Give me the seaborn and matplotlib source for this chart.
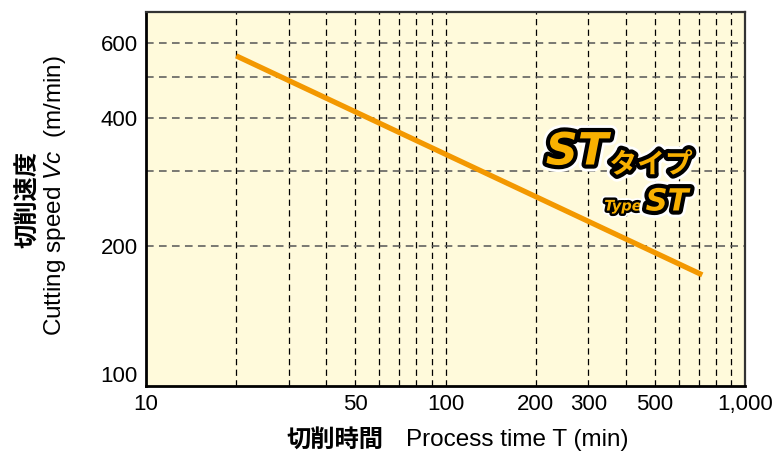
import matplotlib
matplotlib.use("Agg")
import matplotlib.pyplot as plt
import matplotlib.patheffects as pe
import numpy as np
import pandas as pd
import seaborn as sns

# tool life line
process_time = [20, 720]
cutting_speed = [560, 171]

xticks = [10, 50, 100, 200, 300, 500, 1000]
xticklabels = ['10', '50', '100', '200', '300', '500', '1,000']
yticks = [100, 200, 400, 600]
yticklabels = ['100', '200', '400', '600']
xgrid = [20, 30, 40, 50, 60, 70, 80, 90, 100, 200, 300, 400, 500, 600, 700, 800, 900]
ygrid = [200, 300, 400, 500, 600]

sns.set_style("white")
plt.rcParams['font.family'] = ['Liberation Sans', 'Noto Sans CJK JP']
plt.rcParams['text.color'] = 'black'
plt.rcParams['mathtext.fontset'] = 'custom'
plt.rcParams['mathtext.rm'] = 'Liberation Sans'
plt.rcParams['mathtext.it'] = 'Liberation Sans:italic'

W, H = 774, 454
fig = plt.figure(figsize=(W / 100, H / 100), dpi=100)
ax = fig.add_axes([146 / W, 1 - 386 / H, (745 - 146) / W, (386 - 12) / H])
ax.set_facecolor('#fffadb')

df = pd.DataFrame({'T': process_time, 'Vc': cutting_speed})
sns.lineplot(x='T', y='Vc', data=df, color='#f39800', linewidth=3.8, ax=ax, zorder=5,
             solid_capstyle='butt')

ax.set_xscale('log')
ax.set_yscale('log')
ax.set_xlim(10, 1000)
ax.set_ylim(93.7, 710)

for g in xgrid:
    ax.axvline(g, color='black', linewidth=0.9, linestyle=(0, (5, 3.5)), zorder=1)
for g in ygrid:
    ax.axhline(g, color='#555555', linewidth=1.1, linestyle=(0, (5, 3.5)), zorder=1)

ax.xaxis.set_minor_locator(matplotlib.ticker.NullLocator())
ax.yaxis.set_minor_locator(matplotlib.ticker.NullLocator())
ax.set_xticks(xticks)
ax.set_xticklabels(xticklabels)
ax.set_yticks(yticks)
ax.set_yticklabels(yticklabels)
ax.tick_params(axis='both', length=0, labelsize=16, colors='black', pad=6)
ax.set_xlabel('')
ax.set_ylabel('')

for side in ['left', 'bottom']:
    ax.spines[side].set_color('black')
    ax.spines[side].set_linewidth(2)
for side in ['top', 'right']:
    ax.spines[side].set_color('#333333')
    ax.spines[side].set_linewidth(1.6)

# axis titles
fig.text(335 / W, 1 - 440 / H, '切削時間', family=['Noto Sans CJK JP'], weight='bold',
         fontsize=17.5, ha='center', va='center')
fig.text(517 / W, 1 - 440 / H, 'Process time T (min)', fontsize=17.5, ha='center', va='center')
fig.text(28 / W, 1 - 200 / H, '切削速度', family=['Noto Sans CJK JP'], weight='bold',
         fontsize=17.5, ha='center', va='center', rotation=90)
fig.text(55 / W, 1 - 196 / H, r'Cutting speed $\mathit{Vc}$  (m/min)', fontsize=17.5,
         ha='center', va='center', rotation=90)

# badge
fx = [pe.Stroke(linewidth=10, foreground='white'), pe.Stroke(linewidth=6, foreground='black'), pe.Normal()]
fx2 = [pe.Stroke(linewidth=6, foreground='white'), pe.Stroke(linewidth=3.5, foreground='black'), pe.Normal()]
fig.text(577 / W, 1 - 152 / H, 'ST', family=['DejaVu Sans'], weight='bold', style='italic',
         fontsize=32, color='#f8b000', ha='center', va='center', path_effects=fx, zorder=10)
fig.text(651 / W, 1 - 165 / H, 'タイプ', family=['Noto Sans CJK JP'], weight='bold',
         fontsize=20, color='#f8b000', ha='center', va='center', path_effects=fx, zorder=10)
fig.text(623 / W, 1 - 206 / H, 'Type', family=['DejaVu Sans'], weight='bold', style='italic',
         fontsize=10.5, color='#f8b000', ha='center', va='center', path_effects=fx2, zorder=10)
fig.text(667 / W, 1 - 202 / H, 'ST', family=['DejaVu Sans'], weight='bold', style='italic',
         fontsize=22, color='#f8b000', ha='center', va='center', path_effects=fx, zorder=10)

fig.savefig('out.png', dpi=100, facecolor='white')
